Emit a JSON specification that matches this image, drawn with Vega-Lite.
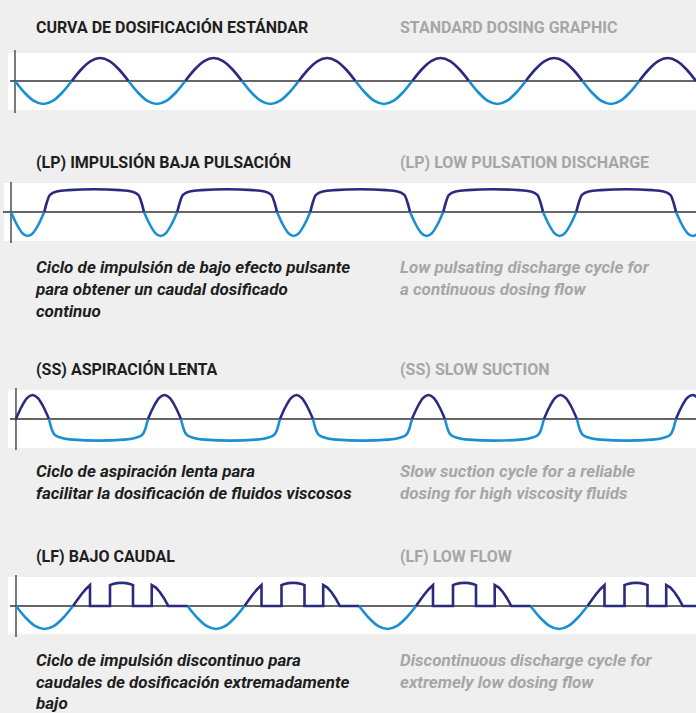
{
"$schema": "https://vega.github.io/schema/vega-lite/v6.json",
"background": "#efefef",
"padding": 0,
"spacing": 0,
"bounds": "flush",
"resolve": {"scale": {"color": "independent"}},
"config": {"view": {"stroke": null}},
"datasets": {
"texts": [
{"p":1,"r":"title","lang":"es","text":"CURVA DE DOSIFICACIÓN ESTÁNDAR"},
{"p":1,"r":"title","lang":"en","text":"STANDARD DOSING GRAPHIC"},
{"p":2,"r":"title","lang":"es","text":"(LP) IMPULSIÓN BAJA PULSACIÓN"},
{"p":2,"r":"title","lang":"en","text":"(LP) LOW PULSATION DISCHARGE"},
{"p":2,"r":"desc","lang":"es","text":"Ciclo de impulsión de bajo efecto pulsante\npara obtener un caudal dosificado\ncontinuo"},
{"p":2,"r":"desc","lang":"en","text":"Low pulsating discharge cycle for\na continuous dosing flow"},
{"p":3,"r":"title","lang":"es","text":"(SS) ASPIRACIÓN LENTA"},
{"p":3,"r":"title","lang":"en","text":"(SS) SLOW SUCTION"},
{"p":3,"r":"desc","lang":"es","text":"Ciclo de aspiración lenta para\nfacilitar la dosificación de fluidos viscosos"},
{"p":3,"r":"desc","lang":"en","text":"Slow suction cycle for a reliable\ndosing for high viscosity fluids"},
{"p":4,"r":"title","lang":"es","text":"(LF) BAJO CAUDAL"},
{"p":4,"r":"title","lang":"en","text":"(LF) LOW FLOW"},
{"p":4,"r":"desc","lang":"es","text":"Ciclo de impulsión discontinuo para\ncaudales de dosificación extremadamente\nbajo"},
{"p":4,"r":"desc","lang":"en","text":"Discontinuous discharge cycle for\nextremely low dosing flow"}
],
"waves": [
{"p":1,"g":0,"c":"n","t":0,"v":0},{"p":1,"g":0,"c":"n","t":0.083,"v":-0.5},{"p":1,"g":0,"c":"n","t":0.167,"v":-0.866},{"p":1,"g":0,"c":"n","t":0.25,"v":-1},{"p":1,"g":0,"c":"n","t":0.333,"v":-0.866},{"p":1,"g":0,"c":"n","t":0.417,"v":-0.5},{"p":1,"g":0,"c":"n","t":0.5,"v":0},
{"p":1,"g":1,"c":"p","t":0.5,"v":0},{"p":1,"g":1,"c":"p","t":0.583,"v":0.5},{"p":1,"g":1,"c":"p","t":0.667,"v":0.866},{"p":1,"g":1,"c":"p","t":0.75,"v":1},{"p":1,"g":1,"c":"p","t":0.833,"v":0.866},{"p":1,"g":1,"c":"p","t":0.917,"v":0.5},{"p":1,"g":1,"c":"p","t":1,"v":0},
{"p":1,"g":2,"c":"n","t":1,"v":0},{"p":1,"g":2,"c":"n","t":1.083,"v":-0.5},{"p":1,"g":2,"c":"n","t":1.167,"v":-0.866},{"p":1,"g":2,"c":"n","t":1.25,"v":-1},{"p":1,"g":2,"c":"n","t":1.333,"v":-0.866},{"p":1,"g":2,"c":"n","t":1.417,"v":-0.5},{"p":1,"g":2,"c":"n","t":1.5,"v":0},
{"p":1,"g":3,"c":"p","t":1.5,"v":0},{"p":1,"g":3,"c":"p","t":1.583,"v":0.5},{"p":1,"g":3,"c":"p","t":1.667,"v":0.866},{"p":1,"g":3,"c":"p","t":1.75,"v":1},{"p":1,"g":3,"c":"p","t":1.833,"v":0.866},{"p":1,"g":3,"c":"p","t":1.917,"v":0.5},{"p":1,"g":3,"c":"p","t":2,"v":0},
{"p":1,"g":4,"c":"n","t":2,"v":0},{"p":1,"g":4,"c":"n","t":2.083,"v":-0.5},{"p":1,"g":4,"c":"n","t":2.167,"v":-0.866},{"p":1,"g":4,"c":"n","t":2.25,"v":-1},{"p":1,"g":4,"c":"n","t":2.333,"v":-0.866},{"p":1,"g":4,"c":"n","t":2.417,"v":-0.5},{"p":1,"g":4,"c":"n","t":2.5,"v":0},
{"p":1,"g":5,"c":"p","t":2.5,"v":0},{"p":1,"g":5,"c":"p","t":2.583,"v":0.5},{"p":1,"g":5,"c":"p","t":2.667,"v":0.866},{"p":1,"g":5,"c":"p","t":2.75,"v":1},{"p":1,"g":5,"c":"p","t":2.833,"v":0.866},{"p":1,"g":5,"c":"p","t":2.917,"v":0.5},{"p":1,"g":5,"c":"p","t":3,"v":0},
{"p":1,"g":6,"c":"n","t":3,"v":0},{"p":1,"g":6,"c":"n","t":3.083,"v":-0.5},{"p":1,"g":6,"c":"n","t":3.167,"v":-0.866},{"p":1,"g":6,"c":"n","t":3.25,"v":-1},{"p":1,"g":6,"c":"n","t":3.333,"v":-0.866},{"p":1,"g":6,"c":"n","t":3.417,"v":-0.5},{"p":1,"g":6,"c":"n","t":3.5,"v":0},
{"p":1,"g":7,"c":"p","t":3.5,"v":0},{"p":1,"g":7,"c":"p","t":3.583,"v":0.5},{"p":1,"g":7,"c":"p","t":3.667,"v":0.866},{"p":1,"g":7,"c":"p","t":3.75,"v":1},{"p":1,"g":7,"c":"p","t":3.833,"v":0.866},{"p":1,"g":7,"c":"p","t":3.917,"v":0.5},{"p":1,"g":7,"c":"p","t":4,"v":0},
{"p":1,"g":8,"c":"n","t":4,"v":0},{"p":1,"g":8,"c":"n","t":4.083,"v":-0.5},{"p":1,"g":8,"c":"n","t":4.167,"v":-0.866},{"p":1,"g":8,"c":"n","t":4.25,"v":-1},{"p":1,"g":8,"c":"n","t":4.333,"v":-0.866},{"p":1,"g":8,"c":"n","t":4.417,"v":-0.5},{"p":1,"g":8,"c":"n","t":4.5,"v":0},
{"p":1,"g":9,"c":"p","t":4.5,"v":0},{"p":1,"g":9,"c":"p","t":4.583,"v":0.5},{"p":1,"g":9,"c":"p","t":4.667,"v":0.866},{"p":1,"g":9,"c":"p","t":4.75,"v":1},{"p":1,"g":9,"c":"p","t":4.833,"v":0.866},{"p":1,"g":9,"c":"p","t":4.917,"v":0.5},{"p":1,"g":9,"c":"p","t":5,"v":0},
{"p":1,"g":10,"c":"n","t":5,"v":0},{"p":1,"g":10,"c":"n","t":5.083,"v":-0.5},{"p":1,"g":10,"c":"n","t":5.167,"v":-0.866},{"p":1,"g":10,"c":"n","t":5.25,"v":-1},{"p":1,"g":10,"c":"n","t":5.333,"v":-0.866},{"p":1,"g":10,"c":"n","t":5.417,"v":-0.5},{"p":1,"g":10,"c":"n","t":5.5,"v":0},
{"p":1,"g":11,"c":"p","t":5.5,"v":0},{"p":1,"g":11,"c":"p","t":5.583,"v":0.5},{"p":1,"g":11,"c":"p","t":5.667,"v":0.866},{"p":1,"g":11,"c":"p","t":5.75,"v":1},{"p":1,"g":11,"c":"p","t":5.833,"v":0.866},{"p":1,"g":11,"c":"p","t":5.917,"v":0.5},{"p":1,"g":11,"c":"p","t":6,"v":0},

{"p":2,"g":0,"c":"n","t":0,"v":0},{"p":2,"g":0,"c":"n","t":0.0417,"v":-0.5},{"p":2,"g":0,"c":"n","t":0.0833,"v":-0.866},{"p":2,"g":0,"c":"n","t":0.125,"v":-1},{"p":2,"g":0,"c":"n","t":0.1667,"v":-0.866},{"p":2,"g":0,"c":"n","t":0.2083,"v":-0.5},{"p":2,"g":0,"c":"n","t":0.25,"v":0},
{"p":2,"g":1,"c":"p","t":0.25,"v":0},{"p":2,"g":1,"c":"p","t":0.268,"v":0.375},{"p":2,"g":1,"c":"p","t":0.293,"v":0.71},{"p":2,"g":1,"c":"p","t":0.343,"v":0.85},{"p":2,"g":1,"c":"p","t":0.43,"v":0.91},{"p":2,"g":1,"c":"p","t":0.625,"v":0.95},{"p":2,"g":1,"c":"p","t":0.82,"v":0.91},{"p":2,"g":1,"c":"p","t":0.907,"v":0.85},{"p":2,"g":1,"c":"p","t":0.957,"v":0.71},{"p":2,"g":1,"c":"p","t":0.982,"v":0.375},{"p":2,"g":1,"c":"p","t":1,"v":0},
{"p":2,"g":2,"c":"n","t":1,"v":0},{"p":2,"g":2,"c":"n","t":1.0417,"v":-0.5},{"p":2,"g":2,"c":"n","t":1.0833,"v":-0.866},{"p":2,"g":2,"c":"n","t":1.125,"v":-1},{"p":2,"g":2,"c":"n","t":1.1667,"v":-0.866},{"p":2,"g":2,"c":"n","t":1.2083,"v":-0.5},{"p":2,"g":2,"c":"n","t":1.25,"v":0},
{"p":2,"g":3,"c":"p","t":1.25,"v":0},{"p":2,"g":3,"c":"p","t":1.268,"v":0.375},{"p":2,"g":3,"c":"p","t":1.293,"v":0.71},{"p":2,"g":3,"c":"p","t":1.343,"v":0.85},{"p":2,"g":3,"c":"p","t":1.43,"v":0.91},{"p":2,"g":3,"c":"p","t":1.625,"v":0.95},{"p":2,"g":3,"c":"p","t":1.82,"v":0.91},{"p":2,"g":3,"c":"p","t":1.907,"v":0.85},{"p":2,"g":3,"c":"p","t":1.957,"v":0.71},{"p":2,"g":3,"c":"p","t":1.982,"v":0.375},{"p":2,"g":3,"c":"p","t":2,"v":0},
{"p":2,"g":4,"c":"n","t":2,"v":0},{"p":2,"g":4,"c":"n","t":2.0417,"v":-0.5},{"p":2,"g":4,"c":"n","t":2.0833,"v":-0.866},{"p":2,"g":4,"c":"n","t":2.125,"v":-1},{"p":2,"g":4,"c":"n","t":2.1667,"v":-0.866},{"p":2,"g":4,"c":"n","t":2.2083,"v":-0.5},{"p":2,"g":4,"c":"n","t":2.25,"v":0},
{"p":2,"g":5,"c":"p","t":2.25,"v":0},{"p":2,"g":5,"c":"p","t":2.268,"v":0.375},{"p":2,"g":5,"c":"p","t":2.293,"v":0.71},{"p":2,"g":5,"c":"p","t":2.343,"v":0.85},{"p":2,"g":5,"c":"p","t":2.43,"v":0.91},{"p":2,"g":5,"c":"p","t":2.625,"v":0.95},{"p":2,"g":5,"c":"p","t":2.82,"v":0.91},{"p":2,"g":5,"c":"p","t":2.907,"v":0.85},{"p":2,"g":5,"c":"p","t":2.957,"v":0.71},{"p":2,"g":5,"c":"p","t":2.982,"v":0.375},{"p":2,"g":5,"c":"p","t":3,"v":0},
{"p":2,"g":6,"c":"n","t":3,"v":0},{"p":2,"g":6,"c":"n","t":3.0417,"v":-0.5},{"p":2,"g":6,"c":"n","t":3.0833,"v":-0.866},{"p":2,"g":6,"c":"n","t":3.125,"v":-1},{"p":2,"g":6,"c":"n","t":3.1667,"v":-0.866},{"p":2,"g":6,"c":"n","t":3.2083,"v":-0.5},{"p":2,"g":6,"c":"n","t":3.25,"v":0},
{"p":2,"g":7,"c":"p","t":3.25,"v":0},{"p":2,"g":7,"c":"p","t":3.268,"v":0.375},{"p":2,"g":7,"c":"p","t":3.293,"v":0.71},{"p":2,"g":7,"c":"p","t":3.343,"v":0.85},{"p":2,"g":7,"c":"p","t":3.43,"v":0.91},{"p":2,"g":7,"c":"p","t":3.625,"v":0.95},{"p":2,"g":7,"c":"p","t":3.82,"v":0.91},{"p":2,"g":7,"c":"p","t":3.907,"v":0.85},{"p":2,"g":7,"c":"p","t":3.957,"v":0.71},{"p":2,"g":7,"c":"p","t":3.982,"v":0.375},{"p":2,"g":7,"c":"p","t":4,"v":0},
{"p":2,"g":8,"c":"n","t":4,"v":0},{"p":2,"g":8,"c":"n","t":4.0417,"v":-0.5},{"p":2,"g":8,"c":"n","t":4.0833,"v":-0.866},{"p":2,"g":8,"c":"n","t":4.125,"v":-1},{"p":2,"g":8,"c":"n","t":4.1667,"v":-0.866},{"p":2,"g":8,"c":"n","t":4.2083,"v":-0.5},{"p":2,"g":8,"c":"n","t":4.25,"v":0},
{"p":2,"g":9,"c":"p","t":4.25,"v":0},{"p":2,"g":9,"c":"p","t":4.268,"v":0.375},{"p":2,"g":9,"c":"p","t":4.293,"v":0.71},{"p":2,"g":9,"c":"p","t":4.343,"v":0.85},{"p":2,"g":9,"c":"p","t":4.43,"v":0.91},{"p":2,"g":9,"c":"p","t":4.625,"v":0.95},{"p":2,"g":9,"c":"p","t":4.82,"v":0.91},{"p":2,"g":9,"c":"p","t":4.907,"v":0.85},{"p":2,"g":9,"c":"p","t":4.957,"v":0.71},{"p":2,"g":9,"c":"p","t":4.982,"v":0.375},{"p":2,"g":9,"c":"p","t":5,"v":0},
{"p":2,"g":10,"c":"n","t":5,"v":0},{"p":2,"g":10,"c":"n","t":5.0417,"v":-0.5},{"p":2,"g":10,"c":"n","t":5.0833,"v":-0.866},{"p":2,"g":10,"c":"n","t":5.125,"v":-1},{"p":2,"g":10,"c":"n","t":5.1667,"v":-0.866},{"p":2,"g":10,"c":"n","t":5.2083,"v":-0.5},{"p":2,"g":10,"c":"n","t":5.25,"v":0},

{"p":3,"g":0,"c":"p","t":0,"v":0},{"p":3,"g":0,"c":"p","t":0.0417,"v":0.5},{"p":3,"g":0,"c":"p","t":0.0833,"v":0.866},{"p":3,"g":0,"c":"p","t":0.125,"v":1},{"p":3,"g":0,"c":"p","t":0.1667,"v":0.866},{"p":3,"g":0,"c":"p","t":0.2083,"v":0.5},{"p":3,"g":0,"c":"p","t":0.25,"v":0},
{"p":3,"g":1,"c":"n","t":0.25,"v":0},{"p":3,"g":1,"c":"n","t":0.273,"v":-0.46},{"p":3,"g":1,"c":"n","t":0.295,"v":-0.67},{"p":3,"g":1,"c":"n","t":0.348,"v":-0.79},{"p":3,"g":1,"c":"n","t":0.43,"v":-0.86},{"p":3,"g":1,"c":"n","t":0.625,"v":-0.9},{"p":3,"g":1,"c":"n","t":0.82,"v":-0.86},{"p":3,"g":1,"c":"n","t":0.902,"v":-0.79},{"p":3,"g":1,"c":"n","t":0.955,"v":-0.67},{"p":3,"g":1,"c":"n","t":0.977,"v":-0.46},{"p":3,"g":1,"c":"n","t":1,"v":0},
{"p":3,"g":2,"c":"p","t":1,"v":0},{"p":3,"g":2,"c":"p","t":1.0417,"v":0.5},{"p":3,"g":2,"c":"p","t":1.0833,"v":0.866},{"p":3,"g":2,"c":"p","t":1.125,"v":1},{"p":3,"g":2,"c":"p","t":1.1667,"v":0.866},{"p":3,"g":2,"c":"p","t":1.2083,"v":0.5},{"p":3,"g":2,"c":"p","t":1.25,"v":0},
{"p":3,"g":3,"c":"n","t":1.25,"v":0},{"p":3,"g":3,"c":"n","t":1.273,"v":-0.46},{"p":3,"g":3,"c":"n","t":1.295,"v":-0.67},{"p":3,"g":3,"c":"n","t":1.348,"v":-0.79},{"p":3,"g":3,"c":"n","t":1.43,"v":-0.86},{"p":3,"g":3,"c":"n","t":1.625,"v":-0.9},{"p":3,"g":3,"c":"n","t":1.82,"v":-0.86},{"p":3,"g":3,"c":"n","t":1.902,"v":-0.79},{"p":3,"g":3,"c":"n","t":1.955,"v":-0.67},{"p":3,"g":3,"c":"n","t":1.977,"v":-0.46},{"p":3,"g":3,"c":"n","t":2,"v":0},
{"p":3,"g":4,"c":"p","t":2,"v":0},{"p":3,"g":4,"c":"p","t":2.0417,"v":0.5},{"p":3,"g":4,"c":"p","t":2.0833,"v":0.866},{"p":3,"g":4,"c":"p","t":2.125,"v":1},{"p":3,"g":4,"c":"p","t":2.1667,"v":0.866},{"p":3,"g":4,"c":"p","t":2.2083,"v":0.5},{"p":3,"g":4,"c":"p","t":2.25,"v":0},
{"p":3,"g":5,"c":"n","t":2.25,"v":0},{"p":3,"g":5,"c":"n","t":2.273,"v":-0.46},{"p":3,"g":5,"c":"n","t":2.295,"v":-0.67},{"p":3,"g":5,"c":"n","t":2.348,"v":-0.79},{"p":3,"g":5,"c":"n","t":2.43,"v":-0.86},{"p":3,"g":5,"c":"n","t":2.625,"v":-0.9},{"p":3,"g":5,"c":"n","t":2.82,"v":-0.86},{"p":3,"g":5,"c":"n","t":2.902,"v":-0.79},{"p":3,"g":5,"c":"n","t":2.955,"v":-0.67},{"p":3,"g":5,"c":"n","t":2.977,"v":-0.46},{"p":3,"g":5,"c":"n","t":3,"v":0},
{"p":3,"g":6,"c":"p","t":3,"v":0},{"p":3,"g":6,"c":"p","t":3.0417,"v":0.5},{"p":3,"g":6,"c":"p","t":3.0833,"v":0.866},{"p":3,"g":6,"c":"p","t":3.125,"v":1},{"p":3,"g":6,"c":"p","t":3.1667,"v":0.866},{"p":3,"g":6,"c":"p","t":3.2083,"v":0.5},{"p":3,"g":6,"c":"p","t":3.25,"v":0},
{"p":3,"g":7,"c":"n","t":3.25,"v":0},{"p":3,"g":7,"c":"n","t":3.273,"v":-0.46},{"p":3,"g":7,"c":"n","t":3.295,"v":-0.67},{"p":3,"g":7,"c":"n","t":3.348,"v":-0.79},{"p":3,"g":7,"c":"n","t":3.43,"v":-0.86},{"p":3,"g":7,"c":"n","t":3.625,"v":-0.9},{"p":3,"g":7,"c":"n","t":3.82,"v":-0.86},{"p":3,"g":7,"c":"n","t":3.902,"v":-0.79},{"p":3,"g":7,"c":"n","t":3.955,"v":-0.67},{"p":3,"g":7,"c":"n","t":3.977,"v":-0.46},{"p":3,"g":7,"c":"n","t":4,"v":0},
{"p":3,"g":8,"c":"p","t":4,"v":0},{"p":3,"g":8,"c":"p","t":4.0417,"v":0.5},{"p":3,"g":8,"c":"p","t":4.0833,"v":0.866},{"p":3,"g":8,"c":"p","t":4.125,"v":1},{"p":3,"g":8,"c":"p","t":4.1667,"v":0.866},{"p":3,"g":8,"c":"p","t":4.2083,"v":0.5},{"p":3,"g":8,"c":"p","t":4.25,"v":0},
{"p":3,"g":9,"c":"n","t":4.25,"v":0},{"p":3,"g":9,"c":"n","t":4.273,"v":-0.46},{"p":3,"g":9,"c":"n","t":4.295,"v":-0.67},{"p":3,"g":9,"c":"n","t":4.348,"v":-0.79},{"p":3,"g":9,"c":"n","t":4.43,"v":-0.86},{"p":3,"g":9,"c":"n","t":4.625,"v":-0.9},{"p":3,"g":9,"c":"n","t":4.82,"v":-0.86},{"p":3,"g":9,"c":"n","t":4.902,"v":-0.79},{"p":3,"g":9,"c":"n","t":4.955,"v":-0.67},{"p":3,"g":9,"c":"n","t":4.977,"v":-0.46},{"p":3,"g":9,"c":"n","t":5,"v":0},
{"p":3,"g":10,"c":"p","t":5,"v":0},{"p":3,"g":10,"c":"p","t":5.0417,"v":0.5},{"p":3,"g":10,"c":"p","t":5.0833,"v":0.866},{"p":3,"g":10,"c":"p","t":5.125,"v":1},{"p":3,"g":10,"c":"p","t":5.1667,"v":0.866},{"p":3,"g":10,"c":"p","t":5.2083,"v":0.5},{"p":3,"g":10,"c":"p","t":5.25,"v":0},

{"p":4,"g":0,"c":"n","t":0,"v":0},{"p":4,"g":0,"c":"n","t":0.0554,"v":-0.5},{"p":4,"g":0,"c":"n","t":0.1108,"v":-0.866},{"p":4,"g":0,"c":"n","t":0.1662,"v":-1},{"p":4,"g":0,"c":"n","t":0.2216,"v":-0.866},{"p":4,"g":0,"c":"n","t":0.277,"v":-0.5},{"p":4,"g":0,"c":"n","t":0.3324,"v":0},
{"p":4,"g":1,"c":"p","t":0.3324,"v":0},{"p":4,"g":1,"c":"p","t":0.3571,"v":0.26},{"p":4,"g":1,"c":"p","t":0.3819,"v":0.51},{"p":4,"g":1,"c":"p","t":0.4067,"v":0.73},{"p":4,"g":1,"c":"p","t":0.4315,"v":0.91},{"p":4,"g":1,"c":"p","t":0.4315,"v":0},{"p":4,"g":1,"c":"p","t":0.5481,"v":0},{"p":4,"g":1,"c":"p","t":0.5481,"v":0.91},{"p":4,"g":1,"c":"p","t":0.5656,"v":0.96},{"p":4,"g":1,"c":"p","t":0.5889,"v":0.995},{"p":4,"g":1,"c":"p","t":0.6152,"v":1.01},{"p":4,"g":1,"c":"p","t":0.6414,"v":0.995},{"p":4,"g":1,"c":"p","t":0.6647,"v":0.96},{"p":4,"g":1,"c":"p","t":0.6822,"v":0.91},{"p":4,"g":1,"c":"p","t":0.6822,"v":0},{"p":4,"g":1,"c":"p","t":0.7913,"v":0},{"p":4,"g":1,"c":"p","t":0.7913,"v":0.91},{"p":4,"g":1,"c":"p","t":0.8155,"v":0.8},{"p":4,"g":1,"c":"p","t":0.8397,"v":0.6},{"p":4,"g":1,"c":"p","t":0.8639,"v":0.33},{"p":4,"g":1,"c":"p","t":0.888,"v":0},{"p":4,"g":1,"c":"p","t":1,"v":0},
{"p":4,"g":2,"c":"n","t":1,"v":0},{"p":4,"g":2,"c":"n","t":1.0554,"v":-0.5},{"p":4,"g":2,"c":"n","t":1.1108,"v":-0.866},{"p":4,"g":2,"c":"n","t":1.1662,"v":-1},{"p":4,"g":2,"c":"n","t":1.2216,"v":-0.866},{"p":4,"g":2,"c":"n","t":1.277,"v":-0.5},{"p":4,"g":2,"c":"n","t":1.3324,"v":0},
{"p":4,"g":3,"c":"p","t":1.3324,"v":0},{"p":4,"g":3,"c":"p","t":1.3571,"v":0.26},{"p":4,"g":3,"c":"p","t":1.3819,"v":0.51},{"p":4,"g":3,"c":"p","t":1.4067,"v":0.73},{"p":4,"g":3,"c":"p","t":1.4315,"v":0.91},{"p":4,"g":3,"c":"p","t":1.4315,"v":0},{"p":4,"g":3,"c":"p","t":1.5481,"v":0},{"p":4,"g":3,"c":"p","t":1.5481,"v":0.91},{"p":4,"g":3,"c":"p","t":1.5656,"v":0.96},{"p":4,"g":3,"c":"p","t":1.5889,"v":0.995},{"p":4,"g":3,"c":"p","t":1.6152,"v":1.01},{"p":4,"g":3,"c":"p","t":1.6414,"v":0.995},{"p":4,"g":3,"c":"p","t":1.6647,"v":0.96},{"p":4,"g":3,"c":"p","t":1.6822,"v":0.91},{"p":4,"g":3,"c":"p","t":1.6822,"v":0},{"p":4,"g":3,"c":"p","t":1.7913,"v":0},{"p":4,"g":3,"c":"p","t":1.7913,"v":0.91},{"p":4,"g":3,"c":"p","t":1.8155,"v":0.8},{"p":4,"g":3,"c":"p","t":1.8397,"v":0.6},{"p":4,"g":3,"c":"p","t":1.8639,"v":0.33},{"p":4,"g":3,"c":"p","t":1.888,"v":0},{"p":4,"g":3,"c":"p","t":2,"v":0},
{"p":4,"g":4,"c":"n","t":2,"v":0},{"p":4,"g":4,"c":"n","t":2.0554,"v":-0.5},{"p":4,"g":4,"c":"n","t":2.1108,"v":-0.866},{"p":4,"g":4,"c":"n","t":2.1662,"v":-1},{"p":4,"g":4,"c":"n","t":2.2216,"v":-0.866},{"p":4,"g":4,"c":"n","t":2.277,"v":-0.5},{"p":4,"g":4,"c":"n","t":2.3324,"v":0},
{"p":4,"g":5,"c":"p","t":2.3324,"v":0},{"p":4,"g":5,"c":"p","t":2.3571,"v":0.26},{"p":4,"g":5,"c":"p","t":2.3819,"v":0.51},{"p":4,"g":5,"c":"p","t":2.4067,"v":0.73},{"p":4,"g":5,"c":"p","t":2.4315,"v":0.91},{"p":4,"g":5,"c":"p","t":2.4315,"v":0},{"p":4,"g":5,"c":"p","t":2.5481,"v":0},{"p":4,"g":5,"c":"p","t":2.5481,"v":0.91},{"p":4,"g":5,"c":"p","t":2.5656,"v":0.96},{"p":4,"g":5,"c":"p","t":2.5889,"v":0.995},{"p":4,"g":5,"c":"p","t":2.6152,"v":1.01},{"p":4,"g":5,"c":"p","t":2.6414,"v":0.995},{"p":4,"g":5,"c":"p","t":2.6647,"v":0.96},{"p":4,"g":5,"c":"p","t":2.6822,"v":0.91},{"p":4,"g":5,"c":"p","t":2.6822,"v":0},{"p":4,"g":5,"c":"p","t":2.7913,"v":0},{"p":4,"g":5,"c":"p","t":2.7913,"v":0.91},{"p":4,"g":5,"c":"p","t":2.8155,"v":0.8},{"p":4,"g":5,"c":"p","t":2.8397,"v":0.6},{"p":4,"g":5,"c":"p","t":2.8639,"v":0.33},{"p":4,"g":5,"c":"p","t":2.888,"v":0},{"p":4,"g":5,"c":"p","t":3,"v":0},
{"p":4,"g":6,"c":"n","t":3,"v":0},{"p":4,"g":6,"c":"n","t":3.0554,"v":-0.5},{"p":4,"g":6,"c":"n","t":3.1108,"v":-0.866},{"p":4,"g":6,"c":"n","t":3.1662,"v":-1},{"p":4,"g":6,"c":"n","t":3.2216,"v":-0.866},{"p":4,"g":6,"c":"n","t":3.277,"v":-0.5},{"p":4,"g":6,"c":"n","t":3.3324,"v":0},
{"p":4,"g":7,"c":"p","t":3.3324,"v":0},{"p":4,"g":7,"c":"p","t":3.3571,"v":0.26},{"p":4,"g":7,"c":"p","t":3.3819,"v":0.51},{"p":4,"g":7,"c":"p","t":3.4067,"v":0.73},{"p":4,"g":7,"c":"p","t":3.4315,"v":0.91},{"p":4,"g":7,"c":"p","t":3.4315,"v":0},{"p":4,"g":7,"c":"p","t":3.5481,"v":0},{"p":4,"g":7,"c":"p","t":3.5481,"v":0.91},{"p":4,"g":7,"c":"p","t":3.5656,"v":0.96},{"p":4,"g":7,"c":"p","t":3.5889,"v":0.995},{"p":4,"g":7,"c":"p","t":3.6152,"v":1.01},{"p":4,"g":7,"c":"p","t":3.6414,"v":0.995},{"p":4,"g":7,"c":"p","t":3.6647,"v":0.96},{"p":4,"g":7,"c":"p","t":3.6822,"v":0.91},{"p":4,"g":7,"c":"p","t":3.6822,"v":0},{"p":4,"g":7,"c":"p","t":3.7913,"v":0},{"p":4,"g":7,"c":"p","t":3.7913,"v":0.91},{"p":4,"g":7,"c":"p","t":3.8155,"v":0.8},{"p":4,"g":7,"c":"p","t":3.8397,"v":0.6},{"p":4,"g":7,"c":"p","t":3.8639,"v":0.33},{"p":4,"g":7,"c":"p","t":3.888,"v":0},{"p":4,"g":7,"c":"p","t":4,"v":0}
]
},
"vconcat": [
{
"width": 696, "height": 50,
"data": {"name": "texts"},
"transform": [{"filter": "datum.p == 1 && datum.r == 'title'"}],
"mark": {"type": "text", "align": "left", "baseline": "alphabetic", "font": "Roboto", "fontWeight": "bold", "fontSize": 16},
"encoding": {
"x": {"field": "lang", "type": "nominal", "scale": {"type": "point", "domain": ["es","en"], "range": [36,400], "padding": 0}, "axis": null},
"y": {"field": "r", "type": "nominal", "scale": {"type": "point", "domain": ["title"], "range": [33,33], "padding": 0}, "axis": null},
"text": {"field": "text"},
"color": {"field": "lang", "type": "nominal", "scale": {"domain": ["es","en"], "range": ["#1e1e1e","#a6a6a6"]}, "legend": null}
}
},
{
"width": 696, "height": 63,
"layer": [
{"data": {"values": [{}]}, "mark": {"type": "rect", "color": "#ffffff"},
"encoding": {"x": {"datum": -0.0617, "type": "quantitative", "scale": {"domain": [-0.132, 6.0], "nice": false, "zero": false}, "axis": null}, "x2": {"datum": 6.0}, "y": {"datum": 1.217, "type": "quantitative", "scale": {"domain": [-1.391, 1.348], "nice": false, "zero": false}, "axis": null}, "y2": {"datum": -1.261}}},
{"data": {"values": [{}]}, "mark": {"type": "rule", "color": "#333333", "strokeWidth": 1.3},
"encoding": {"x": {"datum": -0.044, "type": "quantitative", "scale": {"domain": [-0.132, 6.0], "nice": false, "zero": false}, "axis": null}, "x2": {"datum": 6.0}, "y": {"datum": 0, "type": "quantitative", "scale": {"domain": [-1.391, 1.348], "nice": false, "zero": false}, "axis": null}}},
{"data": {"values": [{}]}, "mark": {"type": "rule", "color": "#333333", "strokeWidth": 1.3},
"encoding": {"x": {"datum": 0, "type": "quantitative", "scale": {"domain": [-0.132, 6.0], "nice": false, "zero": false}, "axis": null}, "y": {"datum": 1.348, "type": "quantitative", "scale": {"domain": [-1.391, 1.348], "nice": false, "zero": false}, "axis": null}, "y2": {"datum": -1.391}}},
{"data": {"name": "waves"}, "transform": [{"filter": "datum.p == 1"}],
"mark": {"type": "line", "interpolate": "monotone", "strokeWidth": 2.6, "clip": true},
"encoding": {"x": {"field": "t", "type": "quantitative", "scale": {"domain": [-0.132, 6.0], "nice": false, "zero": false}, "axis": null}, "y": {"field": "v", "type": "quantitative", "scale": {"domain": [-1.391, 1.348], "nice": false, "zero": false}, "axis": null}, "color": {"field": "c", "type": "nominal", "scale": {"domain": ["p","n"], "range": ["#2b2a7e","#1a8fd4"]}, "legend": null}, "detail": {"field": "g"}, "order": {"value": null}}}
]
},
{
"width": 696, "height": 69,
"data": {"name": "texts"},
"transform": [{"filter": "datum.p == 2 && datum.r == 'title'"}],
"mark": {"type": "text", "align": "left", "baseline": "alphabetic", "font": "Roboto", "fontWeight": "bold", "fontSize": 16},
"encoding": {
"x": {"field": "lang", "type": "nominal", "scale": {"type": "point", "domain": ["es","en"], "range": [36,400], "padding": 0}, "axis": null},
"y": {"field": "r", "type": "nominal", "scale": {"type": "point", "domain": ["title"], "range": [55,55], "padding": 0}, "axis": null},
"text": {"field": "text"},
"color": {"field": "lang", "type": "nominal", "scale": {"domain": ["es","en"], "range": ["#1e1e1e","#a6a6a6"]}, "legend": null}
}
},
{
"width": 696, "height": 61,
"layer": [
{"data": {"values": [{}]}, "mark": {"type": "rect", "color": "#ffffff"},
"encoding": {"x": {"datum": -0.053, "type": "quantitative", "scale": {"domain": [-0.0827, 5.15], "nice": false, "zero": false}, "axis": null}, "x2": {"datum": 5.15}, "y": {"datum": 1.208, "type": "quantitative", "scale": {"domain": [-1.292, 1.25], "nice": false, "zero": false}, "axis": null}, "y2": {"datum": -1.208}}},
{"data": {"values": [{}]}, "mark": {"type": "rule", "color": "#333333", "strokeWidth": 1.3},
"encoding": {"x": {"datum": -0.06, "type": "quantitative", "scale": {"domain": [-0.0827, 5.15], "nice": false, "zero": false}, "axis": null}, "x2": {"datum": 5.15}, "y": {"datum": 0, "type": "quantitative", "scale": {"domain": [-1.292, 1.25], "nice": false, "zero": false}, "axis": null}}},
{"data": {"values": [{}]}, "mark": {"type": "rule", "color": "#333333", "strokeWidth": 1.3},
"encoding": {"x": {"datum": 0, "type": "quantitative", "scale": {"domain": [-0.0827, 5.15], "nice": false, "zero": false}, "axis": null}, "y": {"datum": 1.25, "type": "quantitative", "scale": {"domain": [-1.292, 1.25], "nice": false, "zero": false}, "axis": null}, "y2": {"datum": -1.292}}},
{"data": {"name": "waves"}, "transform": [{"filter": "datum.p == 2"}],
"mark": {"type": "line", "interpolate": "monotone", "strokeWidth": 2.6, "clip": true},
"encoding": {"x": {"field": "t", "type": "quantitative", "scale": {"domain": [-0.0827, 5.15], "nice": false, "zero": false}, "axis": null}, "y": {"field": "v", "type": "quantitative", "scale": {"domain": [-1.292, 1.25], "nice": false, "zero": false}, "axis": null}, "color": {"field": "c", "type": "nominal", "scale": {"domain": ["p","n"], "range": ["#2b2a7e","#1a8fd4"]}, "legend": null}, "detail": {"field": "g"}, "order": {"value": null}}}
]
},
{
"width": 696, "height": 145,
"data": {"name": "texts"},
"transform": [{"filter": "(datum.p == 2 && datum.r == 'desc') || (datum.p == 3 && datum.r == 'title')"}],
"encoding": {
"x": {"field": "lang", "type": "nominal", "scale": {"type": "point", "domain": ["es","en"], "range": [36,400], "padding": 0}, "axis": null},
"y": {"field": "r", "type": "nominal", "scale": {"type": "point", "domain": ["desc","title"], "range": [30,132], "padding": 0}, "axis": null},
"text": {"field": "text"},
"color": {"field": "lang", "type": "nominal", "scale": {"domain": ["es","en"], "range": ["#1e1e1e","#a6a6a6"]}, "legend": null}
},
"layer": [
{"transform": [{"filter": "datum.r == 'title'"}], "mark": {"type": "text", "align": "left", "baseline": "alphabetic", "font": "Roboto", "fontWeight": "bold", "fontSize": 16}},
{"transform": [{"filter": "datum.r == 'desc'"}], "mark": {"type": "text", "align": "left", "baseline": "alphabetic", "font": "Roboto", "fontWeight": "bold", "fontStyle": "italic", "fontSize": 17, "lineBreak": "\n", "lineHeight": 22}}
]
},
{
"width": 696, "height": 62,
"layer": [
{"data": {"values": [{}]}, "mark": {"type": "rect", "color": "#ffffff"},
"encoding": {"x": {"datum": -0.0606, "type": "quantitative", "scale": {"domain": [-0.121, 5.152], "nice": false, "zero": false}, "axis": null}, "x2": {"datum": 5.152}, "y": {"datum": 1.208, "type": "quantitative", "scale": {"domain": [-1.292, 1.292], "nice": false, "zero": false}, "axis": null}, "y2": {"datum": -1.208}}},
{"data": {"values": [{}]}, "mark": {"type": "rule", "color": "#333333", "strokeWidth": 1.3},
"encoding": {"x": {"datum": -0.045, "type": "quantitative", "scale": {"domain": [-0.121, 5.152], "nice": false, "zero": false}, "axis": null}, "x2": {"datum": 5.152}, "y": {"datum": 0, "type": "quantitative", "scale": {"domain": [-1.292, 1.292], "nice": false, "zero": false}, "axis": null}}},
{"data": {"values": [{}]}, "mark": {"type": "rule", "color": "#333333", "strokeWidth": 1.3},
"encoding": {"x": {"datum": 0, "type": "quantitative", "scale": {"domain": [-0.121, 5.152], "nice": false, "zero": false}, "axis": null}, "y": {"datum": 1.292, "type": "quantitative", "scale": {"domain": [-1.292, 1.292], "nice": false, "zero": false}, "axis": null}, "y2": {"datum": -1.292}}},
{"data": {"name": "waves"}, "transform": [{"filter": "datum.p == 3"}],
"mark": {"type": "line", "interpolate": "monotone", "strokeWidth": 2.6, "clip": true},
"encoding": {"x": {"field": "t", "type": "quantitative", "scale": {"domain": [-0.121, 5.152], "nice": false, "zero": false}, "axis": null}, "y": {"field": "v", "type": "quantitative", "scale": {"domain": [-1.292, 1.292], "nice": false, "zero": false}, "axis": null}, "color": {"field": "c", "type": "nominal", "scale": {"domain": ["p","n"], "range": ["#2b2a7e","#1a8fd4"]}, "legend": null}, "detail": {"field": "g"}, "order": {"value": null}}}
]
},
{
"width": 696, "height": 125,
"data": {"name": "texts"},
"transform": [{"filter": "(datum.p == 3 && datum.r == 'desc') || (datum.p == 4 && datum.r == 'title')"}],
"encoding": {
"x": {"field": "lang", "type": "nominal", "scale": {"type": "point", "domain": ["es","en"], "range": [36,400], "padding": 0}, "axis": null},
"y": {"field": "r", "type": "nominal", "scale": {"type": "point", "domain": ["desc","title"], "range": [27,112], "padding": 0}, "axis": null},
"text": {"field": "text"},
"color": {"field": "lang", "type": "nominal", "scale": {"domain": ["es","en"], "range": ["#1e1e1e","#a6a6a6"]}, "legend": null}
},
"layer": [
{"transform": [{"filter": "datum.r == 'title'"}], "mark": {"type": "text", "align": "left", "baseline": "alphabetic", "font": "Roboto", "fontWeight": "bold", "fontSize": 16}},
{"transform": [{"filter": "datum.r == 'desc'"}], "mark": {"type": "text", "align": "left", "baseline": "alphabetic", "font": "Roboto", "fontWeight": "bold", "fontStyle": "italic", "fontSize": 17, "lineBreak": "\n", "lineHeight": 22}}
]
},
{
"width": 696, "height": 62,
"layer": [
{"data": {"values": [{}]}, "mark": {"type": "rect", "color": "#ffffff"},
"encoding": {"x": {"datum": -0.0466, "type": "quantitative", "scale": {"domain": [-0.0933, 3.965], "nice": false, "zero": false}, "axis": null}, "x2": {"datum": 3.965}, "y": {"datum": 1.261, "type": "quantitative", "scale": {"domain": [-1.348, 1.348], "nice": false, "zero": false}, "axis": null}, "y2": {"datum": -1.217}}},
{"data": {"values": [{}]}, "mark": {"type": "rule", "color": "#333333", "strokeWidth": 1.3},
"encoding": {"x": {"datum": -0.035, "type": "quantitative", "scale": {"domain": [-0.0933, 3.965], "nice": false, "zero": false}, "axis": null}, "x2": {"datum": 3.965}, "y": {"datum": 0, "type": "quantitative", "scale": {"domain": [-1.348, 1.348], "nice": false, "zero": false}, "axis": null}}},
{"data": {"values": [{}]}, "mark": {"type": "rule", "color": "#333333", "strokeWidth": 1.3},
"encoding": {"x": {"datum": 0, "type": "quantitative", "scale": {"domain": [-0.0933, 3.965], "nice": false, "zero": false}, "axis": null}, "y": {"datum": 1.348, "type": "quantitative", "scale": {"domain": [-1.348, 1.348], "nice": false, "zero": false}, "axis": null}, "y2": {"datum": -1.348}}},
{"data": {"name": "waves"}, "transform": [{"filter": "datum.p == 4 && datum.c == 'n'"}],
"mark": {"type": "line", "interpolate": "monotone", "strokeWidth": 2.6, "clip": true},
"encoding": {"x": {"field": "t", "type": "quantitative", "scale": {"domain": [-0.0933, 3.965], "nice": false, "zero": false}, "axis": null}, "y": {"field": "v", "type": "quantitative", "scale": {"domain": [-1.348, 1.348], "nice": false, "zero": false}, "axis": null}, "color": {"field": "c", "type": "nominal", "scale": {"domain": ["p","n"], "range": ["#2b2a7e","#1a8fd4"]}, "legend": null}, "detail": {"field": "g"}, "order": {"value": null}}},
{"data": {"name": "waves"}, "transform": [{"filter": "datum.p == 4 && datum.c == 'p'"}],
"mark": {"type": "line", "interpolate": "linear", "strokeWidth": 2.6, "clip": true},
"encoding": {"x": {"field": "t", "type": "quantitative", "scale": {"domain": [-0.0933, 3.965], "nice": false, "zero": false}, "axis": null}, "y": {"field": "v", "type": "quantitative", "scale": {"domain": [-1.348, 1.348], "nice": false, "zero": false}, "axis": null}, "color": {"field": "c", "type": "nominal", "scale": {"domain": ["p","n"], "range": ["#2b2a7e","#1a8fd4"]}, "legend": null}, "detail": {"field": "g"}, "order": {"value": null}}}
]
},
{
"width": 696, "height": 76,
"data": {"name": "texts"},
"transform": [{"filter": "datum.p == 4 && datum.r == 'desc'"}],
"mark": {"type": "text", "align": "left", "baseline": "alphabetic", "font": "Roboto", "fontWeight": "bold", "fontStyle": "italic", "fontSize": 17, "lineBreak": "\n", "lineHeight": 21.5},
"encoding": {
"x": {"field": "lang", "type": "nominal", "scale": {"type": "point", "domain": ["es","en"], "range": [36,400], "padding": 0}, "axis": null},
"y": {"field": "r", "type": "nominal", "scale": {"type": "point", "domain": ["desc"], "range": [29,29], "padding": 0}, "axis": null},
"text": {"field": "text"},
"color": {"field": "lang", "type": "nominal", "scale": {"domain": ["es","en"], "range": ["#1e1e1e","#a6a6a6"]}, "legend": null}
}
}
]
}
